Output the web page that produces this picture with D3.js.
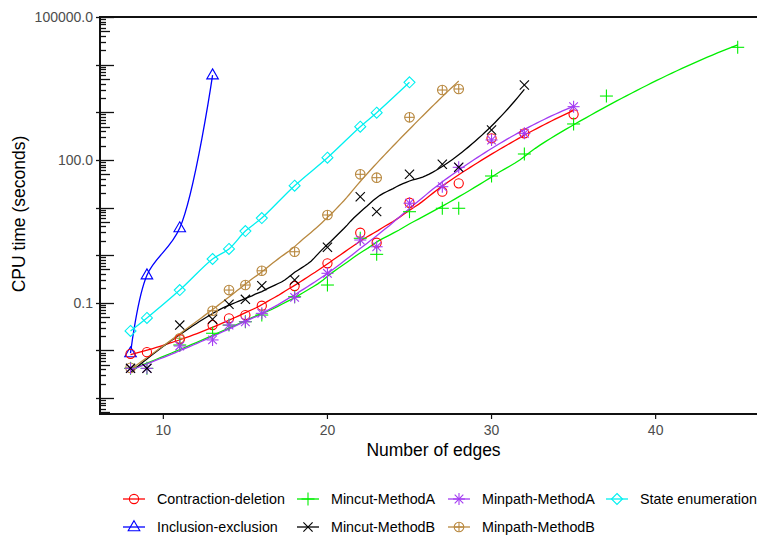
<!DOCTYPE html>
<html>
<head>
<meta charset="utf-8">
<script src="https://cdn.jsdelivr.net/npm/d3@7/dist/d3.min.js"></script>
<style>
  body { margin: 0; background: #fff; }
  text { font-family: "Liberation Sans", Arial, sans-serif; }
</style>
</head>
<body>
<script>
'use strict';

// series data: number of edges -> CPU time (seconds)
const cdEdges = [8, 9, 11, 13, 14, 15, 16, 18, 20, 22, 23, 25, 27, 28, 30, 32, 35];
const cdTimes = [0.0085, 0.0092, 0.0171, 0.0341, 0.0472, 0.0553, 0.0869, 0.225, 0.675, 2.96, 1.82, 12.6, 21.5, 32.2, 284, 361, 906];

const ieEdges = [8, 9, 11, 13];
const ieTimes = [0.0088, 0.38, 3.7, 6000];

const mcaEdges = [8, 9, 11, 13, 14, 15, 16, 18, 20, 22, 23, 25, 27, 28, 30, 32, 35, 37, 45];
const mcaTimes = [0.0042, 0.0042, 0.013, 0.0229, 0.034, 0.040, 0.0553, 0.134, 0.236, 2.26, 1.04, 8.17, 9.64, 9.64, 45.9, 133, 568, 2190, 23100];

const mcbEdges = [8, 9, 11, 13, 14, 15, 16, 18, 20, 22, 23, 25, 27, 28, 30, 32];
const mcbTimes = [0.0042, 0.0042, 0.034, 0.045, 0.093, 0.118, 0.229, 0.30, 1.46, 16.9, 8.2, 49.8, 80.7, 69.8, 425, 3730];

const mpaEdges = [8, 9, 11, 13, 14, 15, 16, 18, 20, 22, 23, 25, 27, 28, 30, 32, 35];
const mpaTimes = [0.0042, 0.0042, 0.0124, 0.0166, 0.034, 0.040, 0.060, 0.130, 0.416, 2.08, 1.50, 12.3, 27.4, 69.8, 262, 361, 1310];

const mpbEdges = [8, 11, 13, 14, 15, 16, 18, 20, 22, 23, 25, 27, 28];
const mpbTimes = [0.0043, 0.018, 0.068, 0.185, 0.236, 0.47, 1.18, 6.97, 49.8, 42.3, 783, 2930, 3080];

const seEdges = [8, 9, 11, 13, 14, 15, 16, 18, 20, 22, 23, 25];
const seTimes = [0.0256, 0.048, 0.185, 0.83, 1.35, 3.2, 6.0, 28.7, 111, 498, 980, 4260];

const seriesNames = ["Contraction-deletion", "Inclusion-exclusion", "Mincut-MethodA", "Mincut-MethodB",
                     "Minpath-MethodA", "Minpath-MethodB", "State enumeration"];

const xTicks = [10, 20, 30, 40];
const yTickLabels = [0.1, 100, 100000];

(function() {
  const width = 757, height = 536;
  const plot = { left: 100, right: 775, top: 17, bottom: 414 };

  const svg = d3.select('body').append('svg')
    .attr('width', width)
    .attr('height', height);

  // span > 0 -> loess trend on log10(time), 0 -> spline through the points
  const series = [
    { name: seriesNames[0], x: cdEdges, y: cdTimes, color: '#FF0000', shape: 'circle', span: 0.6 },
    { name: seriesNames[1], x: ieEdges, y: ieTimes, color: '#0000FF', shape: 'triangle', span: 0 },
    { name: seriesNames[2], x: mcaEdges, y: mcaTimes, color: '#00EE00', shape: 'plus', span: 0.6 },
    { name: seriesNames[3], x: mcbEdges, y: mcbTimes, color: '#000000', shape: 'x', span: 0.55 },
    { name: seriesNames[4], x: mpaEdges, y: mpaTimes, color: '#A33BF2', shape: 'star', span: 0.6 },
    { name: seriesNames[5], x: mpbEdges, y: mpbTimes, color: '#B8883F', shape: 'circleplus', span: 0.7 },
    { name: seriesNames[6], x: seEdges, y: seTimes, color: '#00F0F0', shape: 'diamond', span: 0 }
  ];

  const xScale = d3.scaleLinear()
    .domain([6.14, 47.3])
    .range([plot.left, plot.left + 41.16 * 16.41]);

  const yScale = d3.scaleLog()
    .domain([Math.pow(10, -3.335), 1e5])
    .range([plot.bottom, plot.top]);

  // local quadratic regression (loess) with tricube weights
  function loess(xs, ys, span, x0) {
    const n = xs.length;
    const q = Math.min(n, Math.ceil(span * n));
    const dist = xs.map((x) => Math.abs(x - x0));
    const h = d3.sort(dist)[q - 1] * 1.0001 + 1e-9;
    let s = [0, 0, 0, 0, 0], t = [0, 0, 0];
    for (let i = 0; i < n; i++) {
      const u = dist[i] / h;
      if (u >= 1) continue;
      const w = Math.pow(1 - u * u * u, 3);
      const dx = xs[i] - x0;
      for (let p = 0; p < 5; p++) s[p] += w * Math.pow(dx, p);
      for (let p = 0; p < 3; p++) t[p] += w * Math.pow(dx, p) * ys[i];
    }
    // solve 3x3 normal equations, return intercept
    const A = [[s[0], s[1], s[2]], [s[1], s[2], s[3]], [s[2], s[3], s[4]]];
    const det = (m) => m[0][0] * (m[1][1] * m[2][2] - m[1][2] * m[2][1])
      - m[0][1] * (m[1][0] * m[2][2] - m[1][2] * m[2][0])
      + m[0][2] * (m[1][0] * m[2][1] - m[1][1] * m[2][0]);
    const D = det(A);
    const A0 = [[t[0], s[1], s[2]], [t[1], s[2], s[3]], [t[2], s[3], s[4]]];
    return det(A0) / D;
  }

  // draw a marker shape centred on 0,0
  function drawMarker(g, shape, color) {
    const line = (x1, y1, x2, y2) => g.append('line')
      .attr('x1', x1).attr('y1', y1).attr('x2', x2).attr('y2', y2)
      .attr('stroke', color).attr('stroke-width', 1.1);
    if (shape === 'circle') {
      g.append('circle').attr('r', 4.6).attr('fill', 'none').attr('stroke', color).attr('stroke-width', 1.1);
    } else if (shape === 'plus') {
      line(-6.5, 0, 6.5, 0); line(0, -6.5, 0, 6.5);
    } else if (shape === 'x') {
      line(-4.6, -4.6, 4.6, 4.6); line(-4.6, 4.6, 4.6, -4.6);
    } else if (shape === 'star') {
      line(-6, 0, 6, 0); line(0, -6, 0, 6);
      line(-4.3, -4.3, 4.3, 4.3); line(-4.3, 4.3, 4.3, -4.3);
    } else if (shape === 'triangle') {
      g.append('path').attr('d', 'M0,-6.3L5.8,3.7L-5.8,3.7Z')
        .attr('fill', 'none').attr('stroke', color).attr('stroke-width', 1.1);
    } else if (shape === 'diamond') {
      g.append('path').attr('d', 'M0,-5.5L5.5,0L0,5.5L-5.5,0Z')
        .attr('fill', 'none').attr('stroke', color).attr('stroke-width', 1.1);
    } else if (shape === 'circleplus') {
      g.append('circle').attr('r', 4.8).attr('fill', 'none').attr('stroke', color).attr('stroke-width', 1.1);
      line(-4.8, 0, 4.8, 0); line(0, -4.8, 0, 4.8);
    }
  }

  // clip to plot area
  svg.append('clipPath').attr('id', 'plotclip')
    .append('rect')
    .attr('x', plot.left).attr('y', plot.top)
    .attr('width', plot.right - plot.left).attr('height', plot.bottom - plot.top);

  const lineLayer = svg.append('g').attr('clip-path', 'url(#plotclip)');
  const markLayer = svg.append('g').attr('clip-path', 'url(#plotclip)');

  series.forEach((s) => {
    let pts;
    let curve;
    if (s.span > 0) {
      const logs = s.y.map((v) => Math.log10(v));
      const lo = d3.min(s.x), hi = d3.max(s.x);
      pts = d3.range(lo, hi + 0.001, (hi - lo) / 120)
        .map((x0) => [x0, Math.pow(10, loess(s.x, logs, s.span, x0))]);
      curve = d3.curveLinear;
    } else {
      pts = s.x.map((e, i) => [e, s.y[i]]);
      curve = d3.curveCatmullRom;
    }
    const lineGen = d3.line()
      .x((d) => xScale(d[0]))
      .y((d) => yScale(d[1]))
      .curve(curve);
    lineLayer.append('path')
      .datum(pts)
      .attr('d', lineGen)
      .attr('fill', 'none')
      .attr('stroke', s.color)
      .attr('stroke-width', 1.3);
  });

  const markOrder = [6, 1, 5, 0, 2, 4, 3];
  markOrder.forEach((idx) => {
    const s = series[idx];
    s.x.forEach((e, i) => {
      const g = markLayer.append('g')
        .attr('transform', 'translate(' + xScale(e) + ',' + yScale(s.y[i]) + ')');
      drawMarker(g, s.shape, s.color);
    });
  });

  // frame: top, left and bottom lines
  svg.append('line')
    .attr('x1', plot.left).attr('x2', width)
    .attr('y1', plot.top).attr('y2', plot.top)
    .attr('stroke', '#111').attr('stroke-width', 2);
  svg.append('line')
    .attr('x1', plot.left).attr('x2', width)
    .attr('y1', plot.bottom).attr('y2', plot.bottom)
    .attr('stroke', '#111').attr('stroke-width', 2);
  svg.append('line')
    .attr('x1', plot.left).attr('x2', plot.left)
    .attr('y1', plot.top - 1).attr('y2', plot.bottom + 1)
    .attr('stroke', '#111').attr('stroke-width', 2);

  // y ticks (log minor ticks pointing inward)
  const yTickVals = [];
  for (let d = -4; d <= 5; d++) {
    for (let k = 1; k <= 9; k++) {
      const v = k * Math.pow(10, d);
      if (v >= yScale.domain()[0] && v <= yScale.domain()[1]) yTickVals.push([v, k]);
    }
  }
  yTickVals.forEach(([v, k]) => {
    const y = Math.round(yScale(v)) + 0.5;
    const x1 = k === 1 ? plot.left - 4 : plot.left;
    const x2 = k === 1 ? plot.left + 14 : (k === 5 ? plot.left + 10 : plot.left + 6);
    svg.append('line')
      .attr('x1', x1).attr('x2', x2)
      .attr('y1', y).attr('y2', y)
      .attr('stroke', '#111').attr('stroke-width', 1.3);
  });

  yTickLabels.forEach((v) => {
    svg.append('text')
      .attr('x', plot.left - 7)
      .attr('y', yScale(v))
      .attr('dy', '0.35em')
      .attr('text-anchor', 'end')
      .style('font-size', '14px')
      .style('fill', '#4d4d4d')
      .text(v.toFixed(1));
  });

  // x ticks
  xTicks.forEach((t) => {
    svg.append('line')
      .attr('x1', xScale(t)).attr('x2', xScale(t))
      .attr('y1', plot.bottom).attr('y2', plot.bottom + 5)
      .attr('stroke', '#111').attr('stroke-width', 1.2);
    svg.append('text')
      .attr('x', xScale(t))
      .attr('y', plot.bottom + 21)
      .attr('text-anchor', 'middle')
      .style('font-size', '14px')
      .style('fill', '#4d4d4d')
      .text(t);
  });

  // axis titles
  svg.append('text')
    .attr('x', (plot.left + width) / 2 + 5)
    .attr('y', 456)
    .attr('text-anchor', 'middle')
    .style('font-size', '17.5px')
    .text('Number of edges');

  svg.append('text')
    .attr('transform', 'translate(25, 214)rotate(-90)')
    .attr('text-anchor', 'middle')
    .style('font-size', '17.5px')
    .text('CPU time (seconds)');

  // legend
  const legendOrder = [0, 2, 4, 6, 1, 3, 5];
  const colText = [157, 331, 482, 640];
  const rowY = [499, 527];
  legendOrder.forEach((idx, j) => {
    const s = series[idx];
    const col = j % 4, row = Math.floor(j / 4);
    const tx = colText[col];
    const cx = tx - 23;
    const g = svg.append('g').attr('transform', 'translate(' + cx + ',' + rowY[row] + ')');
    g.append('line')
      .attr('x1', -11).attr('x2', 11)
      .attr('stroke', s.color).attr('stroke-width', 1.3);
    drawMarker(g, s.shape, s.color);
    svg.append('text')
      .attr('x', tx)
      .attr('y', rowY[row])
      .attr('dy', '0.35em')
      .style('font-size', '14.3px')
      .text(s.name);
  });
})();
</script>
</body>
</html>
